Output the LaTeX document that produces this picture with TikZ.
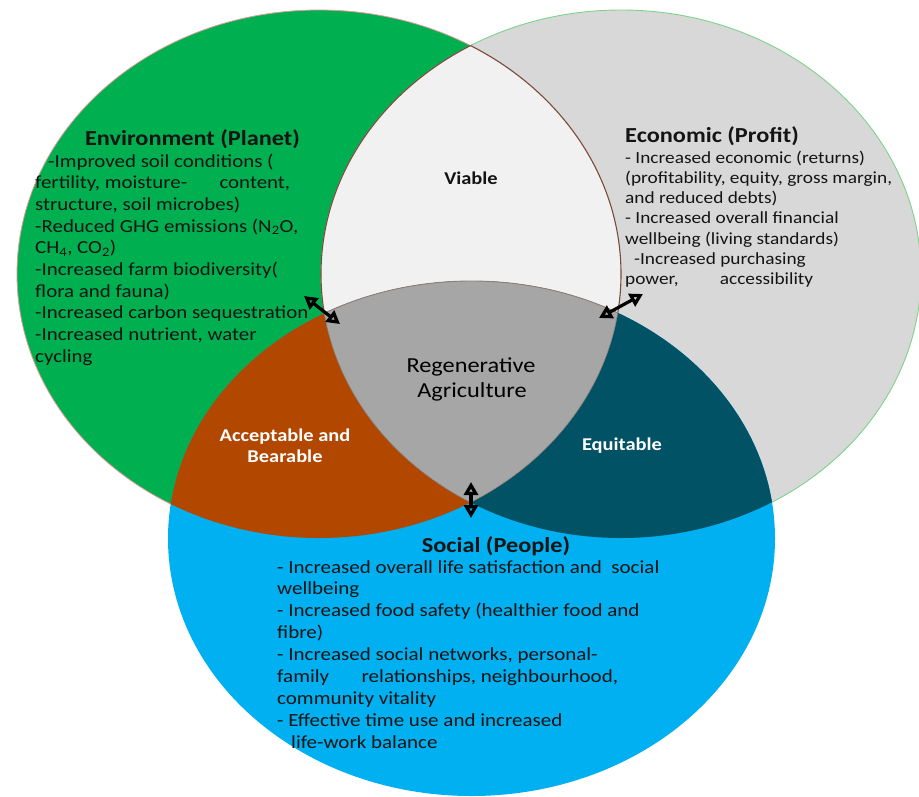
\documentclass[tikz,border=0pt]{standalone}
\usepackage{fontspec}
\setmainfont{Carlito}[FakeStretch=1.136]
\usetikzlibrary{arrows.meta}

\definecolor{planet}{HTML}{00B050}
\definecolor{profit}{HTML}{D8D8D8}
\definecolor{viablefill}{HTML}{F1F1F1}
\definecolor{people}{HTML}{00B0F0}
\definecolor{acceptfill}{HTML}{B24700}
\definecolor{equitfill}{HTML}{005264}
\definecolor{corefill}{HTML}{A6A6A6}
\definecolor{pinkline}{HTML}{E09A9A}
\definecolor{mintline}{HTML}{7CD38A}
\definecolor{brownline}{HTML}{7B4A3A}
\definecolor{coreline}{HTML}{8E7E76}
\definecolor{inktext}{HTML}{141414}

\tikzset{
  planetshape/.style={insert path={(319,274) ellipse [x radius=302pt, y radius=264pt]}},
  profitshape/.style={insert path={(621,274) ellipse [x radius=300pt, y radius=264pt]}},
  peopleshape/.style={insert path={(471.5,538.5) ellipse [x radius=303.5pt, y radius=257.5pt]}},
  heading/.style={font=\fontsize{21.4pt}{25pt}\selectfont\bfseries, text=inktext, inner sep=0pt, anchor=base},
  bodytext/.style={text=inktext, inner sep=0pt, anchor=base west},
  envtext/.style={bodytext, font=\fontsize{18.4pt}{22pt}\selectfont},
  ecotext/.style={bodytext, font=\fontsize{17pt}{20pt}\selectfont},
  soctext/.style={bodytext, font=\fontsize{18.5pt}{22pt}\selectfont},
  zonelabel/.style={font=\fontsize{18pt}{21pt}\selectfont\bfseries, inner sep=0pt, anchor=base},
  corelabel/.style={font=\fontsize{21.4pt}{25pt}\selectfont, text=black, inner sep=0pt, anchor=base},
  link/.style={line width=3.2pt, black,
    {Triangle[open, length=13pt, width=14pt, line width=4.2pt]}-{Triangle[open, length=13pt, width=14pt, line width=4.2pt]}}
}

\begin{document}
\begin{tikzpicture}[x=1pt, y=-1pt]
\useasboundingbox (0,0) rectangle (919,796);

% outer circles: planet and profit
\fill[planet] [planetshape];
\draw[pinkline, line width=0.8pt] [planetshape];
\fill[profit] [profitshape];
\draw[mintline, line width=0.9pt] [profitshape];

% planet / profit overlap
\begin{scope}
  \clip[planetshape];
  \fill[viablefill] [profitshape];
  \draw[brownline, line width=1.1pt] [profitshape];
\end{scope}
\begin{scope}
  \clip[profitshape];
  \draw[brownline, line width=1.1pt] [planetshape];
\end{scope}

% people circle and its overlaps
\fill[people] [peopleshape];
\begin{scope}
  \clip[planetshape];
  \fill[acceptfill] [peopleshape];
\end{scope}
\begin{scope}
  \clip[profitshape];
  \fill[equitfill] [peopleshape];
\end{scope}
\begin{scope}
  \clip[planetshape];
  \clip[profitshape];
  \fill[corefill] [peopleshape];
  \draw[coreline, line width=0.9pt] [peopleshape];
\end{scope}
\begin{scope}
  \clip[peopleshape];
  \clip[profitshape];
  \draw[coreline, line width=0.6pt] [planetshape];
\end{scope}
\begin{scope}
  \clip[peopleshape];
  \clip[planetshape];
  \draw[coreline, line width=0.6pt] [profitshape];
\end{scope}

% Environment (Planet)
\node[heading] (envhead) at (192.5,145) {Environment (Planet)};
\foreach \t [count=\i] in {
  {\hspace*{13pt}-Improved soil conditions (},
  {\makebox[255pt][s]{fertility, moisture-\hfill content,}},
  {structure, soil microbes)},
  {-Reduced GHG emissions (N\textsubscript{2}O,},
  {CH\textsubscript{4}, CO\textsubscript{2})},
  {-Increased farm biodiversity(},
  {flora and fauna)},
  {-Increased carbon sequestration},
  {-Increased nutrient, water},
  {cycling}}
  \node[envtext] (env\i) at (35,{167+21.7*(\i-1)}) {\t};

% Economic (Profit)
\node[heading, anchor=base west] (ecohead) at (625,142) {Economic (Profit)};
\foreach \t [count=\i] in {
  {- Increased economic (returns)},
  {(profitability, equity, gross margin,},
  {and reduced debts)},
  {- Increased overall financial},
  {wellbeing (living standards)},
  {\hspace*{9pt}-Increased purchasing},
  {\makebox[188pt][s]{power,\hfill accessibility}}}
  \node[ecotext] (eco\i) at (625,{163+20.3*(\i-1)}) {\t};

% Social (People)
\node[heading] (sochead) at (496,552) {Social (People)};
\foreach \t [count=\i] in {
  {- Increased overall life satisfaction and\ \ social},
  {wellbeing},
  {- Increased food safety (healthier food and},
  {fibre)},
  {- Increased social networks, personal-},
  {\makebox[341pt][s]{family\hfill relationships, neighbourhood,}},
  {community vitality},
  {- Effective time use and increased},
  {\hspace*{14pt}life-work balance}}
  \node[soctext] (soc\i) at (277,{573+21.9*(\i-1)}) {\t};

% overlap labels
\node[zonelabel, text=inktext] (viable) at (471,184) {Viable};
\node[zonelabel, text=white] (accept1) at (285,441) {Acceptable and};
\node[zonelabel, text=white] (accept2) at (285,462) {Bearable};
\node[zonelabel, text=white] (equit) at (622,450) {Equitable};
\node[corelabel] (core1) at (471,372) {Regenerative};
\node[corelabel] (core2) at (472,397) {Agriculture};

% two-way links at the corners of the core
\coordinate (envlinkA) at (304,296);
\coordinate (envlinkB) at (340,324);
\coordinate (ecolinkA) at (643,294);
\coordinate (ecolinkB) at (599,318);
\coordinate (soclinkA) at (471,482);
\coordinate (soclinkB) at (471,518);
\draw[link] (envlinkA) -- (envlinkB);
\draw[link] (ecolinkA) -- (ecolinkB);
\draw[link] (soclinkA) -- (soclinkB);

\end{tikzpicture}
\end{document}
